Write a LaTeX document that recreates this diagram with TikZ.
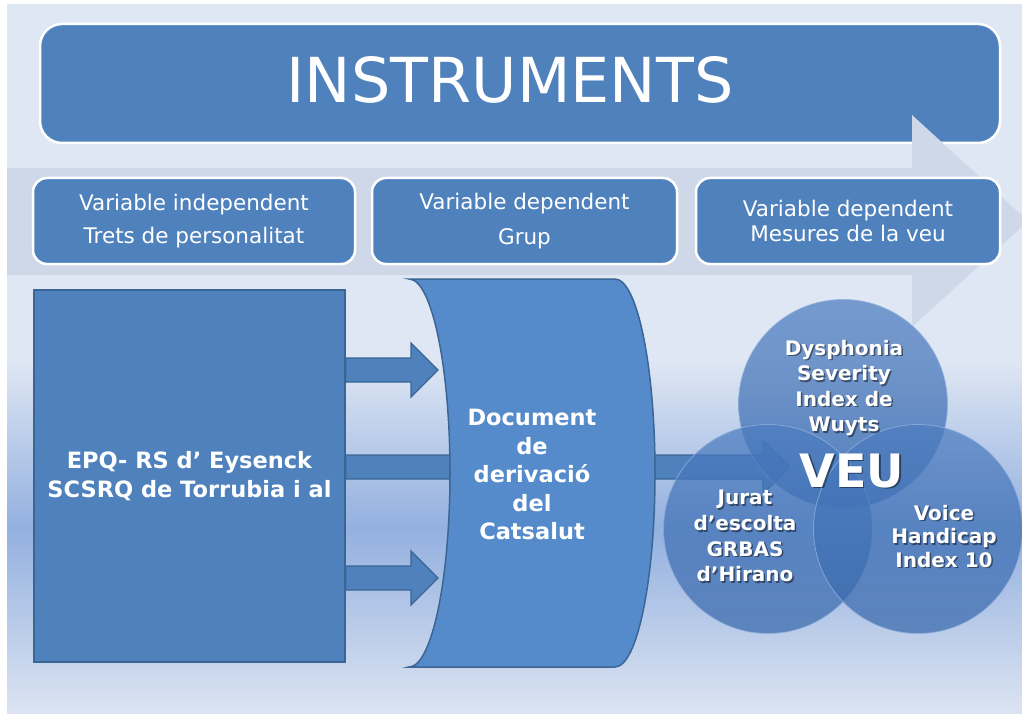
\documentclass[tikz,border=0pt]{standalone}
\usepackage{fontspec}
\setmainfont{DejaVu Sans}
\usetikzlibrary{calc}

\definecolor{accentblue}{HTML}{4F81BD}
\definecolor{edgeblue}{HTML}{3B6595}
\definecolor{docblue}{HTML}{568BCB}
\definecolor{bgtop}{HTML}{DFE7F4}
\definecolor{bgmid}{HTML}{93B0DF}
\definecolor{bgbot}{HTML}{DCE4F2}
\definecolor{bandgrey}{HTML}{CFD8E9}
\definecolor{rimblue}{HTML}{8FAFDC}
\definecolor{circtop}{HTML}{4C7CC0}
\definecolor{circbot}{HTML}{3768AC}

% block arrow from a start point to a tip
\newcommand{\blockarrow}[2]{%
  \draw[blockarr] let \p1=(#1), \p2=(#2) in
    (\x1,\y1+12pt) -- (\x2-27pt,\y1+12pt) -- (\x2-27pt,\y1+27pt) -- (\x2,\y2)
    -- (\x2-27pt,\y1-27pt) -- (\x2-27pt,\y1-12pt) -- (\x1,\y1-12pt) -- cycle;}

% white text with a soft drop shadow
\newcommand{\veulabel}[4]{%
  \node[whitetext, text=black, text opacity=0.45, font=#3] at ($(#2)+(1.5,1.5)$) {#4};
  \node[whitetext, font=#3] (#1) at (#2) {#4};}

\begin{document}
\begin{tikzpicture}[x=1pt,y=-1pt,
    varbox/.style={draw=white, line width=2.5pt, fill=accentblue, rounded corners=14pt,
      text=white, align=center, inner sep=0pt},
    whitetext/.style={text=white, align=center, inner sep=0pt},
    blockarr/.style={draw=edgeblue, line width=1.2pt, fill=accentblue},
    veucircle/.style={circle, minimum size=209pt, inner sep=0pt, draw=rimblue, line width=0.8pt,
      top color=circtop, bottom color=circbot, fill opacity=0.72, draw opacity=0.8},
  ]
  \useasboundingbox (0,0) rectangle (1022,714);
  % Background
  \fill[white] (0,0) rectangle (1022,714);
  \fill[bgtop] (7,4) rectangle (1022,361);
  \shade[top color=bgtop, bottom color=bgmid] (7,360) rectangle (1022,528);
  \shade[top color=bgmid, bottom color=bgbot] (7,527) rectangle (1022,714);
  % Title
  \node[varbox, rounded corners=22pt, minimum width=960pt, minimum height=119pt] (title) at (520,83.5) {};
  \node[whitetext, font=\fontsize{62}{70}\selectfont] (titletext) at (510,80) {INSTRUMENTS};
  % Grey band arrow
  \fill[bandgrey] (7,168) -- (912,168) -- (912,115) -- (1028,221) -- (912,327) -- (912,275) -- (7,275) -- cycle;
  % Variables
  \node[varbox, minimum width=322pt, minimum height=86pt, font=\fontsize{21.5}{33}\selectfont]
    (indep) at (194,221) {Variable independent\\Trets de personalitat};
  \node[varbox, minimum width=305pt, minimum height=86pt, font=\fontsize{21.5}{35}\selectfont]
    (group) at (524.5,221) {Variable dependent\\Grup};
  \node[varbox, minimum width=304pt, minimum height=86pt, font=\fontsize{21.5}{25}\selectfont]
    (voice) at (848,221) {Variable dependent\\Mesures de la veu};
  % Questionnaires
  \node[draw=edgeblue, line width=1.5pt, fill=accentblue, minimum width=311pt, minimum height=372pt,
    whitetext, font=\bfseries\fontsize{22.5}{29}\selectfont]
    (epq) at (189.5,476) {EPQ- RS d’ Eysenck\\SCSRQ de Torrubia i al};
  % Arrows
  \coordinate (tipA) at (438,370);
  \coordinate (tipB) at (790,467);
  \coordinate (tipC) at (438,578);
  \blockarrow{epq.east |- tipA}{tipA}
  \blockarrow{epq.east |- tipC}{tipC}
  \blockarrow{epq.east |- tipB}{tipB}
  % Document shape
  \draw[draw=edgeblue, line width=1.5pt, fill=docblue]
    (409,279) -- (615,279)
    .. controls (637.1,279) and (655,365.9) .. (655,473)
    .. controls (655,580.1) and (637.1,667) .. (615,667)
    -- (409,667)
    .. controls (431.6,667) and (450,580.1) .. (450,473)
    .. controls (450,365.9) and (431.6,279) .. cycle;
  \node[whitetext, font=\bfseries\fontsize{22.5}{28.5}\selectfont]
    (docu) at (532,474.8) {Document\\de\\derivació\\del\\Catsalut};
  % VEU circles
  \node[veucircle] (dsi) at (843,404) {};
  \node[veucircle] (jur) at (768,529) {};
  \node[veucircle] (vhi) at (918,529) {};
  \veulabel{dsitext}{844,388}{\bfseries\fontsize{20}{25.5}\selectfont}{Dysphonia\\Severity\\Index de\\Wuyts}
  \veulabel{jurtext}{745,536.2}{\bfseries\fontsize{20}{25.7}\selectfont}{Jurat\\d’escolta\\GRBAS\\d’Hirano}
  \veulabel{vhitext}{944,536.2}{\bfseries\fontsize{20}{23.5}\selectfont}{Voice\\Handicap\\Index 10}
  \veulabel{veu}{852,471}{\bfseries\fontsize{46}{50}\selectfont}{VEU}
\end{tikzpicture}
\end{document}
